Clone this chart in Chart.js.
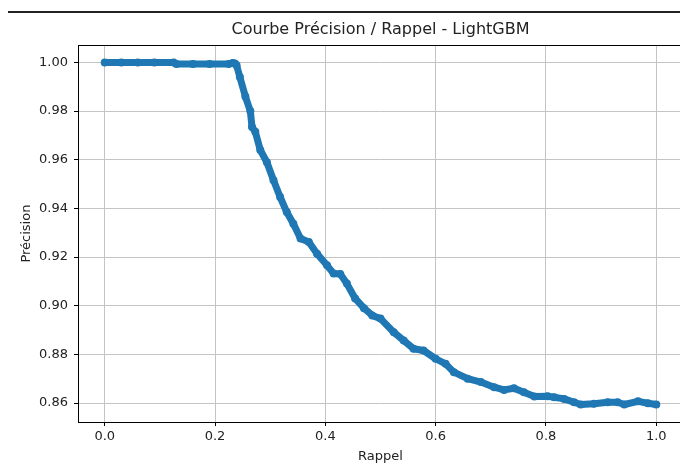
<!DOCTYPE html>
<html>
<head>
<meta charset="utf-8">
<script src="https://cdn.jsdelivr.net/npm/chart.js@4/dist/chart.umd.min.js"></script>
<style>
  html, body { margin: 0; padding: 0; background: #fff; }
  #wrap { position: relative; width: 680px; height: 468px; overflow: hidden; }
  #topline { position: absolute; left: 8px; top: 11px; width: 672px; height: 2px; background: #222; }
  #chart { position: absolute; left: 0; top: 0; }
</style>
</head>
<body>
<div id="wrap">
  <div id="topline"></div>
  <canvas id="chart" width="690" height="468"></canvas>
</div>
<script>
// Precision / recall points
const recall = [
  0.000, 0.030, 0.060, 0.090, 0.125, 0.130, 0.160, 0.190, 0.225, 0.232,
  0.236, 0.239, 0.245, 0.255, 0.264, 0.267, 0.273, 0.282, 0.294, 0.306,
  0.318, 0.330, 0.342, 0.355, 0.370, 0.385, 0.403, 0.415, 0.427, 0.439,
  0.454, 0.470, 0.485, 0.500, 0.524, 0.542, 0.560, 0.578, 0.600, 0.618,
  0.633, 0.658, 0.682, 0.706, 0.724, 0.742, 0.760, 0.779, 0.803, 0.815,
  0.833, 0.851, 0.863, 0.887, 0.912, 0.930, 0.942, 0.967, 0.985, 1.000
];
const precision = [
  1.0000, 1.0000, 1.0000, 1.0000, 1.0000, 0.9994, 0.9994, 0.9994, 0.9994, 0.9998,
  0.9996, 0.9989, 0.9940, 0.9860, 0.9800, 0.9735, 0.9715, 0.9640, 0.9590, 0.9516,
  0.9447, 0.9385, 0.9337, 0.9276, 0.9262, 0.9214, 0.9166, 0.9132, 0.9130, 0.9091,
  0.9030, 0.8990, 0.8960, 0.8947, 0.8891, 0.8857, 0.8823, 0.8816, 0.8782, 0.8761,
  0.8727, 0.8700, 0.8686, 0.8665, 0.8654, 0.8661, 0.8644, 0.8627, 0.8628, 0.8624,
  0.8617, 0.8603, 0.8594, 0.8597, 0.8603, 0.8603, 0.8594, 0.8607, 0.8599, 0.8594
];

// Tick positions and labels
const xTicks = [0.0, 0.2, 0.4, 0.6, 0.8, 1.0];
const xTickLabels = ["0.0", "0.2", "0.4", "0.6", "0.8", "1.0"];
const yTicks = [0.86, 0.88, 0.90, 0.92, 0.94, 0.96, 0.98, 1.00];
const yTickLabels = ["0.86", "0.88", "0.90", "0.92", "0.94", "0.96", "0.98", "1.00"];

const BLUE = "#1f77b4";
const GRID = "#c4c4c4";
const TEXT = "#222";
const FONT = "'DejaVu Sans', sans-serif";

// frame around the plot area (top spine etc.)
const frame = {
  id: "frame",
  afterDraw(chart) {
    const a = chart.chartArea;
    const ctx = chart.ctx;
    ctx.save();
    ctx.strokeStyle = "#000";
    ctx.lineWidth = 1;
    ctx.strokeRect(Math.round(a.left) + 0.5, Math.round(a.top) + 0.5,
      Math.round(a.right - a.left), Math.round(a.bottom - a.top));
    ctx.restore();
  }
};

const points = recall.map((r, i) => ({ x: r, y: precision[i] }));

new Chart(document.getElementById("chart").getContext("2d"), {
  type: "scatter",
  data: {
    datasets: [{
      data: points,
      showLine: true,
      borderColor: BLUE,
      backgroundColor: BLUE,
      borderWidth: 7,
      borderJoinStyle: "round",
      borderCapStyle: "round",
      pointRadius: 4,
      pointBorderWidth: 0,
      pointHoverRadius: 4
    }]
  },
  options: {
    responsive: false,
    animation: false,
    events: [],
    layout: { padding: { left: 0, right: 7, top: 0, bottom: 0 } },
    plugins: {
      legend: { display: false },
      tooltip: { enabled: false },
      title: {
        display: true,
        text: "Courbe Précision / Rappel - LightGBM",
        fullSize: false,
        color: TEXT,
        font: { family: FONT, size: 16, weight: "normal", lineHeight: 1.2 },
        padding: { top: 20, bottom: 6 }
      }
    },
    scales: {
      x: {
        type: "linear",
        min: -0.0485,
        max: 1.0485,
        afterBuildTicks: axis => { axis.ticks = xTicks.map(v => ({ value: v })); },
        afterFit: axis => { axis.height = 46; },
        grid: { color: GRID, lineWidth: 1, tickLength: 4, tickColor: "#000", tickWidth: 1 },
        border: { display: false },
        ticks: {
          color: TEXT,
          font: { family: FONT, size: 13 },
          padding: 3,
          maxRotation: 0,
          callback: (v, i) => xTickLabels[i]
        },
        title: {
          display: true,
          text: "Rappel",
          color: TEXT,
          font: { family: FONT, size: 13, lineHeight: 1.2 },
          padding: { top: 0, bottom: 4 }
        }
      },
      y: {
        type: "linear",
        min: 0.8522,
        max: 1.0071,
        afterBuildTicks: axis => { axis.ticks = yTicks.map(v => ({ value: v })); },
        afterFit: axis => { axis.width = 78; },
        grid: { color: GRID, lineWidth: 1, tickLength: 4, tickColor: "#000", tickWidth: 1 },
        border: { display: false },
        ticks: {
          color: TEXT,
          font: { family: FONT, size: 13 },
          padding: 6,
          callback: (v, i) => yTickLabels[i]
        },
        title: {
          display: true,
          text: "Précision",
          color: TEXT,
          font: { family: FONT, size: 13, lineHeight: 1.2 },
          padding: { top: 19, bottom: 0 }
        }
      }
    }
  },
  plugins: [frame]
});
</script>
</body>
</html>
